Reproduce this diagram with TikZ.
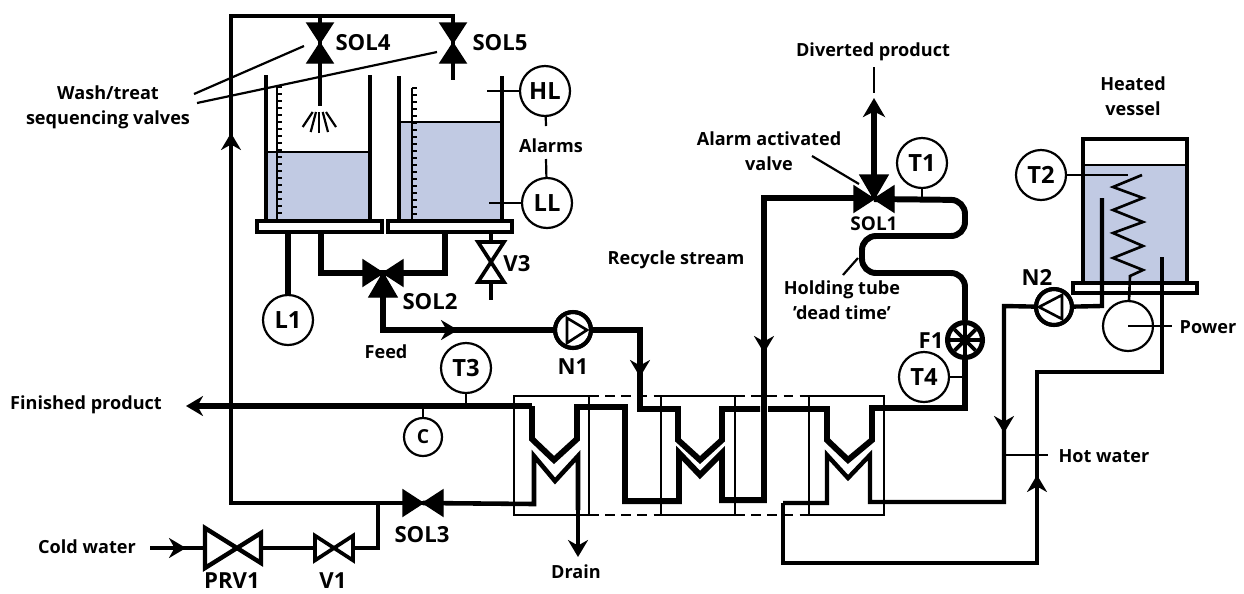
\documentclass[tikz,border=0pt]{standalone}
\usepackage{fontspec}
\setmainfont{Open Sans}
\usetikzlibrary{arrows.meta}
\definecolor{liquid}{HTML}{C1CAE3}
\tikzset{
  pipe/.style={line width=3.4pt, line join=miter},
  line/.style={line width=2.5pt},
  thin line/.style={line width=1.25pt},
  head/.style={-{Stealth[length=3.4mm, width=4mm, inset=1.1mm]}},
  lab/.style={font=\bfseries\fontsize{10.3}{12}\selectfont, align=center, inner sep=0pt},
  tag/.style={font=\bfseries\fontsize{12.6}{14}\selectfont, inner sep=0pt},
  gauge/.style={circle, draw, fill=white, line width=1.25pt, minimum size=1cm, inner sep=0pt, font=\bfseries\fontsize{13.5}{15}\selectfont},
  small gauge/.style={gauge, minimum size=0.76cm, font=\bfseries\fontsize{11}{12}\selectfont},
  pump/.style={circle, draw, fill=white, line width=2.3pt, minimum size=0.72cm, inner sep=0pt},
  solid valve/.style={draw, fill=black, line width=0.8pt, line join=miter},
  valve/.pic={\path[pic actions] (-20,-13) -- (-20,13) -- (20,-13) -- (20,13) -- cycle;},
  tee/.pic={\path[pic actions] (-20,-13) -- (-20,13) -- (0,0) -- cycle (20,-13) -- (20,13) -- (0,0) -- cycle (-14,24) -- (14,24) -- (0,0) -- cycle;}
}

\begin{document}
\begin{tikzpicture}[x=0.02cm, y=-0.02cm]
\useasboundingbox (0,0) rectangle (1244,593);

% tanks
\fill [liquid] (266,152) rectangle (370,220);
\fill [liquid] (399,122) rectangle (502,220);
\fill [liquid] (1083,165) rectangle (1187,283);
\draw [thin line] (266,152) -- (370,152);
\draw [thin line] (399,122) -- (502,122);
\draw [thin line] (1083,165) -- (1187,165);
\draw [line] (266,75) -- (266,220) (370,75) -- (370,220);
\draw [line] (399,76) -- (399,220) (502,76) -- (502,220);
\draw [line width=1.6pt] (277,86) -- (277,220) (412,88) -- (412,220);
\foreach \yy in {87,94,...,220} {
  \draw [thin line] (277,\yy) -- (282,\yy);
  \draw [thin line] (412,\yy+1) -- (417,\yy+1);
}
\draw [line, fill=white] (257,221) rectangle (382,232);
\draw [line, fill=white] (388,221) rectangle (512,232);
\draw [line] (1083,283) -- (1083,139) -- (1187,139) -- (1187,283);
\draw [line, fill=white] (1073,283) rectangle (1197,293);

% spray
\foreach \xa/\ya/\xb in {302.7/127/312.7, 310.7/132/316, 319.3/133/319.3, 328/132/322.7, 336/127/326} {
  \draw [thin line] (\xa,\ya) -- (\xb,112);
}

% instruments
\node [gauge] (HL) at (545,91) {HL};
\node [gauge] (LL) at (547,203) {LL};
\node [gauge] (L1) at (288,320) {L1};
\node [gauge] (T1) at (922,163) {T1};
\node [gauge] (T2) at (1041,175) {T2};
\node [gauge] (T3) at (466,368) {T3};
\node [gauge] (T4) at (924,377) {T4};
\node [small gauge] (C) at (423,437) {C};
\node [lab] (alarms) at (551,146) {Alarms};
\draw [thin line] (HL) -- (546,126);
\draw [thin line] (LL) -- (546,159);
\draw [thin line] (HL) -- (487,91);
\draw [thin line] (LL) -- (489,203);
\draw [thin line] (T2) -- (1128,175);
\draw [thin line] (T1) -- (922,200);
\draw [thin line] (T3) -- (466,406);
\draw [thin line] (C) -- (423,406);
\draw [thin line] (T4) -- (965,377);

% heat exchangers
\foreach \xa/\xb in {514/589, 661/735, 809/884} {
  \draw [thin line] (\xa,396) rectangle (\xb,515);
}
\draw [thin line, dash pattern=on 5.6pt off 3.6pt] (589,396) -- (661,396) (735,396) -- (809,396);
\draw [thin line, dash pattern=on 5.6pt off 3.6pt] (589,515) -- (661,515) (735,515) -- (809,515);

% cold water and wash loop
\coordinate (topleft) at (231,16);
\node [lab] (cold) at (87,547) {Cold water};
\coordinate (PRV1) at (236,548);
\coordinate (V1) at (334,548);
\coordinate (SOL3) at (423,503);
\coordinate (SOL4) at (320,43);
\coordinate (SOL5) at (453,43);
\draw [line] (150,548) -- (PRV1) -- (V1) -- (378,548) -- (378,503);
\draw [line, head] (150,548) -- (186,548);
\draw [line, fill=white] (205,528) -- (205,568) -- (261,533) -- (261,563) -- cycle;
\pic [draw, fill=white, line width=2.1pt, scale=0.95] at (V1) {valve};
\draw [line width=2.6pt, line join=miter] (SOL3) -- (231,503) -- (topleft) -- (453,16) -- (SOL5) -- (453,80);
\draw [line width=2.6pt] (320,16) -- (SOL4) -- (320,106);
\draw [line width=2.6pt, head] (231,190) -- (231,133);
\pic [solid valve] at (SOL3) {valve};
\pic [solid valve, rotate=90] at (SOL4) {valve};
\pic [solid valve, rotate=90] at (SOL5) {valve};
\draw [line width=2.6pt] (SOL3) -- (534,504) -- (534,456) -- (555,481) -- (578,456) -- (578,510);
\draw [line width=2.6pt, head] (578,510) -- (578,557);

% feed
\coordinate (SOL2) at (383,273);
\node [pump] (N1) at (573,330) {};
\draw [pipe] (288,232) -- (L1);
\draw [pipe] (321,232) -- (321,273) -- (445,273) -- (445,232);
\draw [pipe] (SOL2) -- (383,330) -- (N1);
\draw [pipe, head] (420,330) -- (458,330);
\pic [solid valve] at (SOL2) {tee};
\draw [pipe] (N1) -- (640,330) -- (640,409) -- (678,409) -- (678,440) -- (700,460) -- (722,440) -- (722,409) -- (760,409);
\draw [pipe, head] (640,345) -- (640,377);
\draw [line width=1.5pt, fill=white] (567,318) -- (567,343) -- (587,330) -- cycle;
\draw [line width=2.3pt] (N1.center) circle (18);

% V3
\coordinate (V3) at (491,262);
\draw [line] (491,232) -- (491,300);
\pic [draw, fill=white, line width=2.1pt, rotate=90] at (V3) {valve};

% product to finished
\draw [pipe, head] (532,406) -- (186,406);
\draw [pipe] (532,406) -- (532,439) -- (554,460) -- (577,439) -- (577,407) -- (625,407) -- (625,501) -- (679,501) -- (679,453) -- (700,475) -- (722,453) -- (722,500) -- (764,500) -- (764,198) -- (855,198);
\draw [pipe, head] (764,320) -- (764,353);

% holding tube
\coordinate (SOL1) at (874,199);
\node [pump] (F1) at (965,340) {};
\draw [pipe] (768,409) -- (827,409) -- (827,440) -- (848,460) -- (872,440) -- (872,408) -- (965,408) -- (F1);
\draw [pipe, rounded corners=0.28cm] (F1) -- (965,273) -- (862,273) -- (862,236) -- (965,236) -- (965,200) -- (SOL1);
\draw [line width=3.8pt, -{Stealth[length=3.8mm, width=4.4mm, inset=1.1mm]}] (SOL1) -- (874,98);
\pic [solid valve, rotate=180] at (SOL1) {tee};
\foreach \ang in {0,45,90,135} {
  \draw [line width=2.2pt] (F1.center) ++(\ang:15) -- ++(\ang+180:30);
}
\draw [line width=2.3pt] (F1.center) circle (17);

% heated vessel circuit
\node [pump] (N2) at (1054,307) {};
\node [gauge, fill=none] (power) at (1128,326) {};
\draw [line] (783,503) -- (827,503) -- (827,455) -- (848,478) -- (870,455) -- (870,502) -- (1004,502) -- (1004,306) -- (N2);
\draw [line] (N2) -- (1102,306) -- (1102,198);
\draw [line, head] (1004,400) -- (1004,433);
\draw [line] (783,503) -- (783,563) -- (1037,563) -- (1037,372) -- (1162,372) -- (1162,257);
\draw [line, head] (1037,510) -- (1037,475);
\draw [line width=1.5pt, fill=white] (1039,307) -- (1062,295) -- (1062,319) -- cycle;
\draw [line width=2.3pt] (N2.center) circle (18);
\draw [line width=1.5pt] (1142,175) -- (1113,187) -- (1143,198) -- (1113,210) -- (1143,222) -- (1113,233) -- (1143,246) -- (1113,258) -- (1143,270) -- (1130,276) -- (power);

% labels
\node [tag] (lSOL4) at (363,43) {SOL4};
\node [tag] (lSOL5) at (500,43) {SOL5};
\node [tag] (lSOL2) at (430,302) {SOL2};
\node [tag] (lSOL3) at (422,535) {SOL3};
\node [tag] (lV3) at (517,264) {V3};
\node [tag] (lN1) at (573,367) {N1};
\node [tag] (lN2) at (1037,277) {N2};
\node [tag] (lF1) at (931,341) {F1};
\node [tag] (lPRV1) at (232,581) {PRV1};
\node [tag] (lV1) at (333,581) {V1};
\node [lab, font=\bfseries\fontsize{10.8}{12}\selectfont] (lSOL1) at (874,224) {SOL1};
\node [lab] (finished) at (86,405) {Finished product};
\node [lab] (feed) at (386,352) {Feed};
\node [lab] (drain) at (576,572) {Drain};
\node [lab] (recycle) at (676,260) {Recycle stream};
\node [lab] (diverted) at (873,52) {Diverted product};
\node [lab] (hot) at (1104,456) {Hot water};
\node [lab] (powerlab) at (1208,327) {Power};
\node [lab] (heated) at (1133,96) {Heated\\[2pt]vessel};
\node [lab] (alarmvalve) at (769,151) {Alarm activated\\[2pt]valve};
\node [lab] (holding) at (842,300) {Holding tube\\[2pt]'dead time'};
\node [lab] (wash) at (108,107) {Wash/treat\\[2pt]sequencing valves};

% leaders
\draw [thin line] (874,67) -- (874,93);
\draw [thin line] (812,156) -- (859,184);
\draw [thin line] (858,258) -- (843,275);
\draw [thin line] (1004,455) -- (1048,455);
\draw [thin line] (power.center) -- (1172,326);
\draw [thin line] (304,46) -- (194,94);
\draw [thin line] (437,52) -- (197,103);
\end{tikzpicture}
\end{document}
